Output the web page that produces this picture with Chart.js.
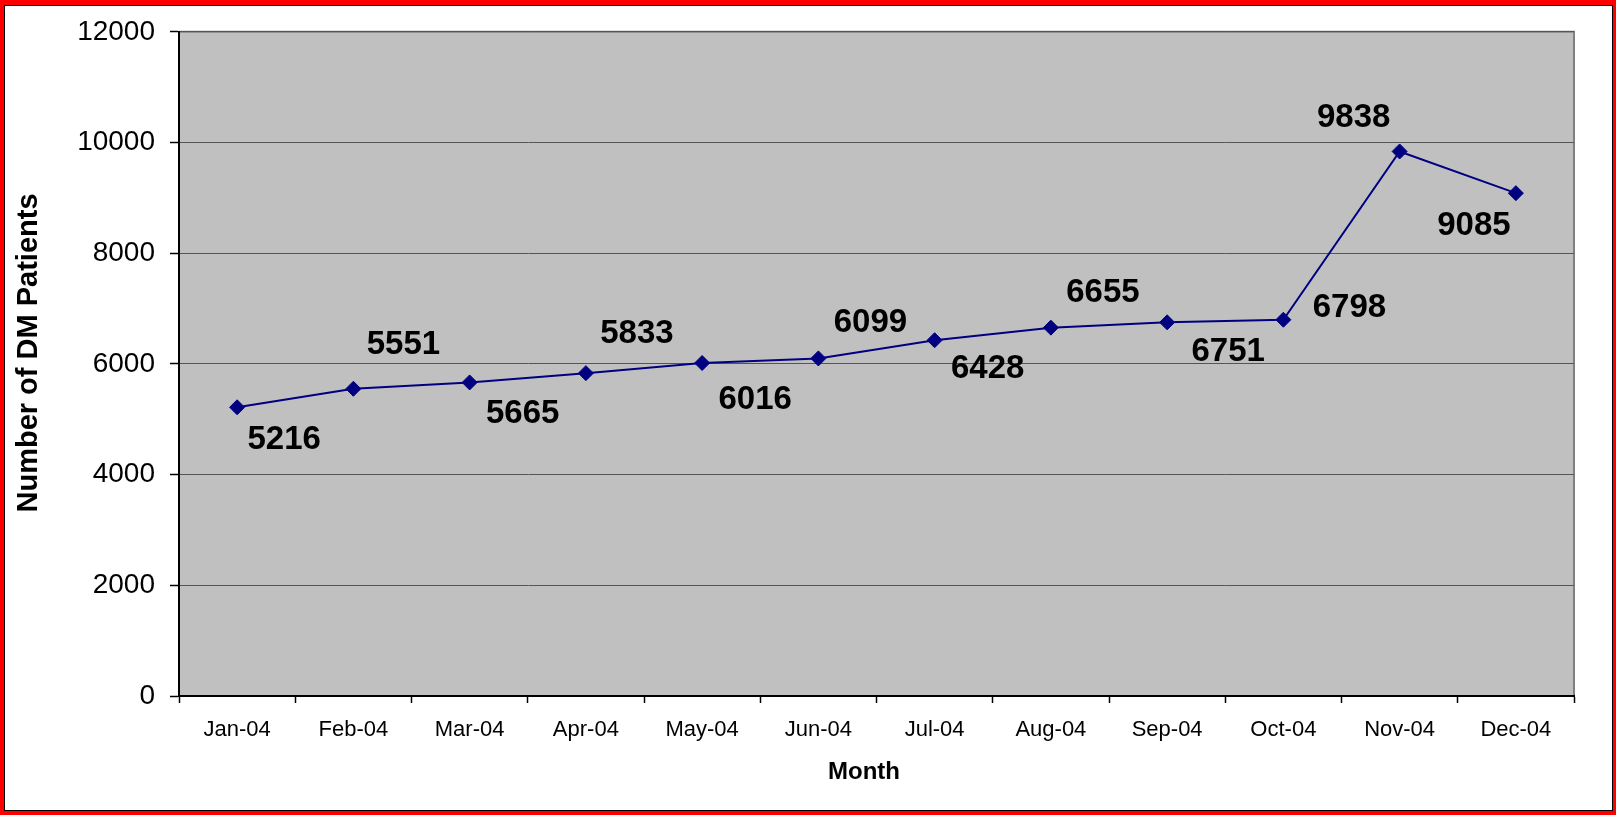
<!DOCTYPE html>
<html lang="en">
<head>
    <meta charset="UTF-8">
    <title>Number of DM Patients by Month</title>
    <script src="https://cdn.jsdelivr.net/npm/chart.js"></script>
    <style>
        html, body { margin: 0; padding: 0; }
        body { width: 1616px; height: 815px; background: #FF0000; position: relative; overflow: hidden; }
        #frame { position: absolute; left: 4px; top: 5px; width: 1607px; height: 804px; background: #FFFFFF; border: 1px solid #000000; }
        #chart { position: absolute; left: 0; top: 0; }
    </style>
</head>
<body>
    <div id="frame"></div>
    <canvas id="chart" width="1616" height="815"></canvas>

    <script>
        // chart data
        const months = ['Jan-04', 'Feb-04', 'Mar-04', 'Apr-04', 'May-04', 'Jun-04',
                        'Jul-04', 'Aug-04', 'Sep-04', 'Oct-04', 'Nov-04', 'Dec-04'];
        const patients = [5216, 5551, 5665, 5833, 6016, 6099, 6428, 6655, 6751, 6798, 9838, 9085];
        const yTicks = [0, 2000, 4000, 6000, 8000, 10000, 12000];

        // where each value label sits relative to its point (px)
        const labelDx = [47, 50, 53, 51, 53, 52, 53, 52, 61, 66, -46, -42];
        const labelDy = [33, -44, 31, -39, 37, -36, 29, -35, 30, -12, -34, 33];

        const FONT = "'Liberation Sans', Arial, sans-serif";

        // gray plot background + gray top/right border
        const plotArea = {
            id: 'plotArea',
            beforeDraw(chart) {
                const { ctx, chartArea: a } = chart;
                ctx.save();
                ctx.fillStyle = '#C0C0C0';
                ctx.fillRect(a.left, a.top, a.right - a.left, a.bottom - a.top);
                ctx.strokeStyle = '#808080';
                ctx.lineWidth = 2;
                ctx.beginPath();
                ctx.moveTo(a.left, a.top);
                ctx.lineTo(a.right, a.top);
                ctx.lineTo(a.right, a.bottom);
                ctx.stroke();
                ctx.restore();
            }
        };

        // value labels and axis titles
        const labelsAndTitles = {
            id: 'labelsAndTitles',
            afterDatasetsDraw(chart) {
                const ctx = chart.ctx;
                const meta = chart.getDatasetMeta(0);
                ctx.save();
                ctx.font = `bold 33px ${FONT}`;
                ctx.fillStyle = '#000000';
                ctx.textAlign = 'center';
                ctx.textBaseline = 'middle';
                meta.data.forEach((pt, i) => {
                    ctx.fillText(String(patients[i]), pt.x + labelDx[i], pt.y + labelDy[i]);
                });
                ctx.restore();
            },
            afterDraw(chart) {
                const ctx = chart.ctx;
                ctx.save();
                ctx.fillStyle = '#000000';
                ctx.textAlign = 'center';
                ctx.textBaseline = 'middle';
                ctx.font = `bold 24px ${FONT}`;
                ctx.fillText('Month', 864, 772);
                ctx.translate(29, 353);
                ctx.rotate(-Math.PI / 2);
                ctx.font = `bold 29px ${FONT}`;
                ctx.fillText('Number of DM Patients', 0, 0);
                ctx.restore();
            }
        };

        new Chart(document.getElementById('chart'), {
            type: 'line',
            data: {
                labels: months,
                datasets: [{
                    data: patients,
                    borderColor: '#000080',
                    backgroundColor: '#000080',
                    borderWidth: 2,
                    tension: 0,
                    pointStyle: 'rectRot',
                    pointRadius: 7.5,
                    pointHoverRadius: 7.5,
                    pointBackgroundColor: '#000080',
                    pointBorderColor: '#000080',
                    pointBorderWidth: 1
                }]
            },
            options: {
                responsive: false,
                animation: false,
                layout: { padding: { left: 0, right: 42, top: 31, bottom: 0 } },
                plugins: {
                    legend: { display: false },
                    tooltip: { enabled: false }
                },
                scales: {
                    x: {
                        offset: true,
                        grid: {
                            offset: true,
                            drawOnChartArea: false,
                            drawTicks: true,
                            tickLength: 7,
                            tickColor: '#000000',
                            tickWidth: 1.5
                        },
                        border: { color: '#000000', width: 2 },
                        ticks: {
                            color: '#000000',
                            padding: 14,
                            maxRotation: 0,
                            autoSkip: false,
                            font: { family: FONT, size: 22 }
                        },
                        afterFit(scale) { scale.height = 119; }
                    },
                    y: {
                        min: 0,
                        max: 12000,
                        afterBuildTicks(scale) { scale.ticks = yTicks.map(v => ({ value: v })); },
                        grid: {
                            color: '#555555',
                            lineWidth: 1,
                            tickLength: 9,
                            tickColor: '#000000',
                            tickWidth: 1.5
                        },
                        border: { color: '#000000', width: 2 },
                        ticks: {
                            color: '#000000',
                            padding: 15,
                            font: { family: FONT, size: 28 },
                            callback: v => String(v)
                        },
                        afterFit(scale) { scale.width = 179; }
                    }
                }
            },
            plugins: [plotArea, labelsAndTitles]
        });
    </script>
</body>
</html>
